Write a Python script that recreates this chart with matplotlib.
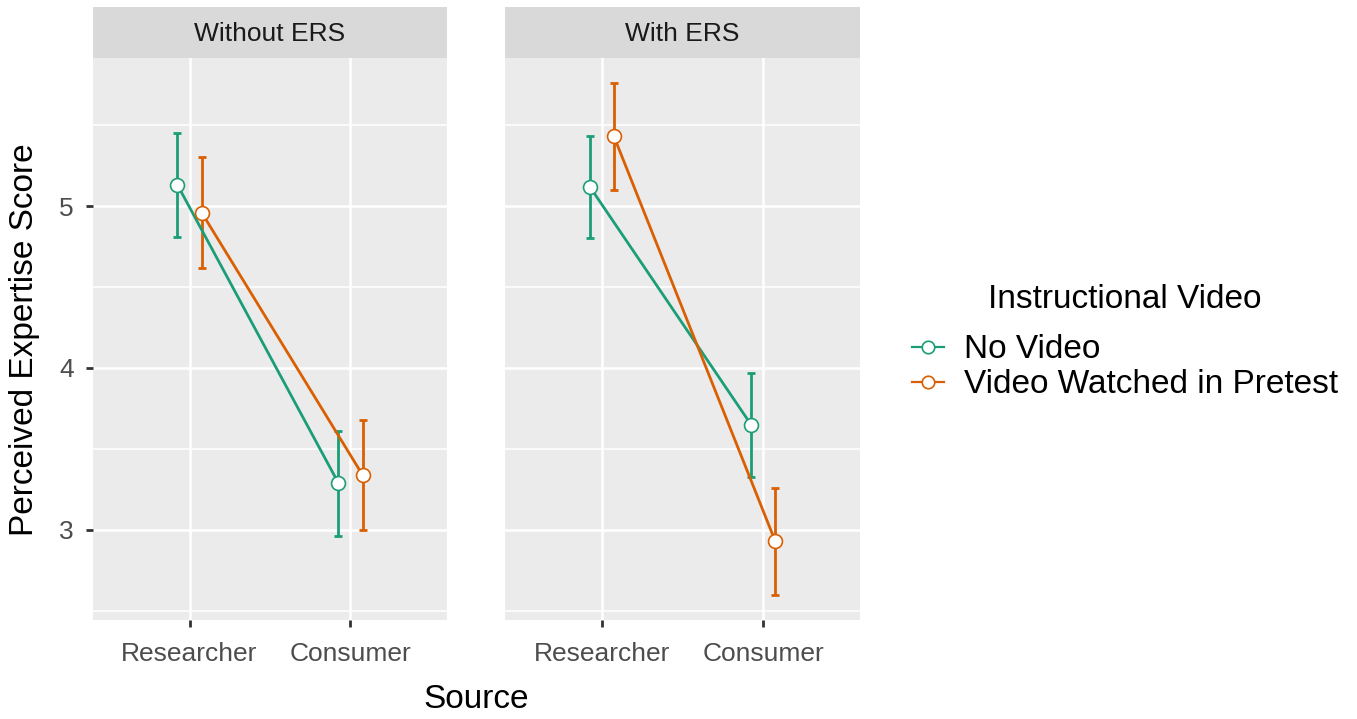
import matplotlib
matplotlib.use("Agg")
import matplotlib.pyplot as plt
from matplotlib.lines import Line2D
from matplotlib.patches import Rectangle
import numpy as np

plt.rcParams['font.family'] = ['Liberation Sans', 'DejaVu Sans']

# data
panels = ["Without ERS", "With ERS"]
sources = ["Researcher", "Consumer"]
groups = ["No Video", "Video Watched in Pretest"]
colors = ["#1B9E77", "#D95F02"]

# mean, lower, upper per panel -> group -> source
means = {
    "Without ERS": {"No Video": [5.13, 3.29], "Video Watched in Pretest": [4.96, 3.34]},
    "With ERS": {"No Video": [5.12, 3.65], "Video Watched in Pretest": [5.43, 2.93]},
}
lower = {
    "Without ERS": {"No Video": [4.81, 2.96], "Video Watched in Pretest": [4.62, 3.00]},
    "With ERS": {"No Video": [4.80, 3.33], "Video Watched in Pretest": [5.10, 2.60]},
}
upper = {
    "Without ERS": {"No Video": [5.45, 3.61], "Video Watched in Pretest": [5.30, 3.68]},
    "With ERS": {"No Video": [5.43, 3.97], "Video Watched in Pretest": [5.76, 3.26]},
}

dodge = [-0.075, 0.075]
panel_bg = "#EBEBEB"
strip_bg = "#D9D9D9"

fig = plt.figure(figsize=(13.57, 7.19), dpi=100)
fig.patch.set_facecolor("white")

boxes = [(93, 447), (505, 860)]
W, H = 1357, 719
top_px, bot_px = 58, 620

for (x0, x1), name in zip(boxes, panels):
    ax = fig.add_axes([x0 / W, 1 - bot_px / H, (x1 - x0) / W, (bot_px - top_px) / H])
    ax.set_facecolor(panel_bg)
    for s in ax.spines.values():
        s.set_visible(False)
    ax.set_xlim(0.4, 2.6)
    ax.set_ylim(2.444, 5.914)
    ax.set_xticks([1, 2])
    ax.set_yticks([3, 4, 5])
    ax.set_yticks([2.5, 3.5, 4.5, 5.5], minor=True)
    ax.grid(True, which="major", color="white", linewidth=1.8)
    ax.grid(True, which="minor", axis="y", color="white", linewidth=1.1)
    ax.set_axisbelow(True)
    ax.tick_params(axis="both", which="major", length=5, width=2.0, color="#333333",
                   labelsize=19, labelcolor="#4D4D4D")
    ax.tick_params(axis="x", which="major", pad=10.5)
    ax.tick_params(axis="y", which="major", pad=9)
    ax.tick_params(axis="both", which="minor", length=0)
    ax.set_xticklabels(sources)
    if name == panels[0]:
        ax.set_yticklabels(["3", "4", "5"])
    else:
        ax.tick_params(axis="y", which="major", length=0, labelleft=False)

    xs = np.arange(1, len(sources) + 1)
    for g, col, d in zip(groups, colors, dodge):
        m = np.array(means[name][g])
        lo = np.array(lower[name][g])
        hi = np.array(upper[name][g])
        ax.errorbar(xs + d, m, yerr=[m - lo, hi - m], fmt="none", ecolor=col,
                    elinewidth=2.0, capsize=3, capthick=2.0, zorder=3)
        ax.plot(xs + d, m, color=col, linewidth=2.0, zorder=4)
        ax.plot(xs + d, m, linestyle="none", marker="o", markersize=10,
                markerfacecolor="white", markeredgecolor=col, markeredgewidth=1.2, zorder=5)

    # facet strip
    sh = (top_px - 7) / (bot_px - top_px)
    ax.add_patch(Rectangle((0, 1), 1, sh, transform=ax.transAxes, facecolor=strip_bg,
                           edgecolor="none", clip_on=False))
    ax.text(0.5, 1 + sh / 2 - 0.003, name, transform=ax.transAxes, ha="center", va="center",
            fontsize=19, color="#1A1A1A")

fig.text(476 / W, 1 - 700 / H, "Source", ha="center", va="center", fontsize=24, color="black")
fig.text(25 / W, 1 - 340 / H, "Perceived Expertise Score", ha="center", va="center",
         rotation=90, fontsize=24, color="black")

handles = [Line2D([0], [0], color=c, linewidth=1.6, marker="o", markersize=9,
                  markerfacecolor="white", markeredgecolor=c, markeredgewidth=1.2)
           for c in colors]
leg = fig.legend(handles, groups, title="Instructional Video", loc="center left",
                 bbox_to_anchor=(912 / W, 1 - 342 / H), frameon=False, fontsize=24,
                 title_fontsize=24, handlelength=0.95, handletextpad=0.6, labelspacing=0.12,
                 borderaxespad=0, borderpad=0)
leg._legend_box.sep = 14
for t in leg.get_texts():
    t.set_color("black")

fig.savefig("out.png", dpi=100)
